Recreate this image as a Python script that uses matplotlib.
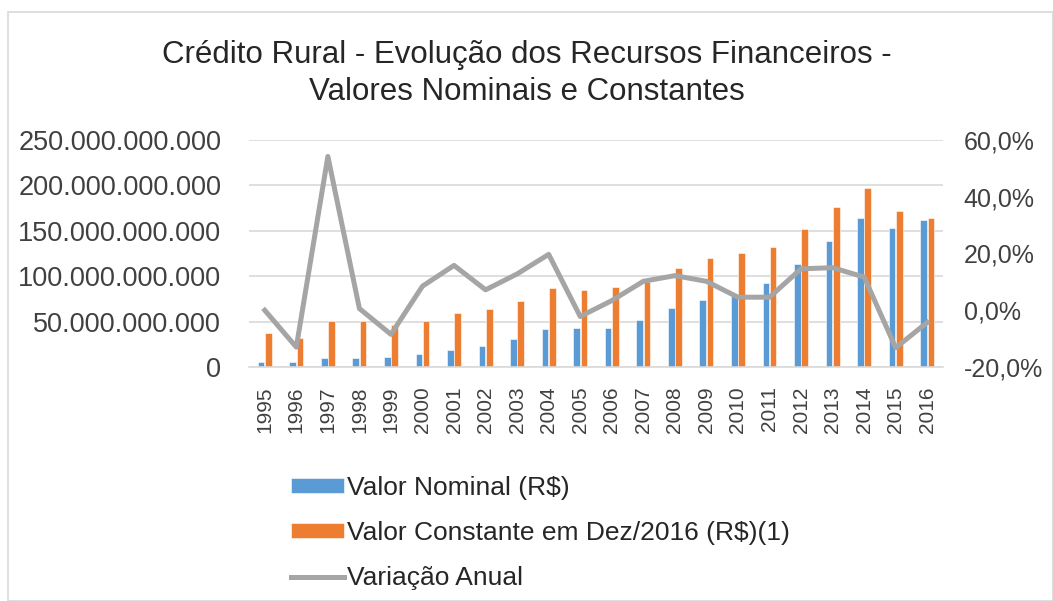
import numpy as np
import matplotlib.pyplot as plt
from matplotlib.patches import Rectangle
from matplotlib.ticker import FuncFormatter

plt.rcParams['font.family'] = ['Liberation Sans', 'DejaVu Sans']

anos = [str(a) for a in range(1995, 2017)]
# valores em bilhoes de R$
valor_nominal = [5.9, 5.9, 10.0, 10.0, 11.4, 14.4, 18.4, 22.8, 31.3, 41.3, 42.7,
                 43.5, 52.3, 65.2, 73.7, 77.7, 92.1, 113.5, 138.9, 164.3, 153.3, 161.7]
valor_constante = [37.2, 32.4, 50.9, 50.9, 46.4, 50.9, 59.7, 63.7, 72.6, 86.6, 85.1,
                   88.0, 93.2, 109.4, 120.5, 126.0, 131.9, 151.8, 175.7, 197.0, 171.6, 164.3]
# variacao anual em %
variacao = [0.0, -13.0, 54.2, 0.6, -8.5, 8.5, 15.8, 7.2, 12.8, 19.7, -2.2,
            3.4, 10.2, 12.2, 10.2, 4.6, 4.6, 14.6, 15.0, 11.7, -13.2, -4.3]

azul = '#5B9BD5'
laranja = '#ED7D31'
cinza = '#A5A5A5'

fig = plt.figure(figsize=(10.53, 6.01), dpi=100)
fig.patches.append(Rectangle((8 / 1053, 0), 1 - 8 / 1053, 1 - 12 / 601, transform=fig.transFigure,
                             fill=False, edgecolor='#D9D9D9', linewidth=1.2))

ax = fig.add_axes([249 / 1053, 1 - 367 / 601, (943 - 249) / 1053, (367 - 140) / 601])
x = np.arange(len(anos))
w = 0.21
ax.bar(x - 0.115, np.array(valor_nominal) * 1e9, w, color=azul, edgecolor='white', linewidth=0.4,
       label='Valor Nominal (R$)', zorder=2)
ax.bar(x + 0.115, np.array(valor_constante) * 1e9, w, color=laranja, edgecolor='white', linewidth=0.4,
       label='Valor Constante em Dez/2016 (R$)(1)', zorder=2)
ax.set_xlim(-0.5, len(anos) - 0.5)
ax.set_ylim(0, 250e9)
ax.set_yticks(np.arange(0, 251e9, 50e9))
ax.yaxis.set_major_formatter(FuncFormatter(lambda v, p: f'{int(round(v)):,}'.replace(',', '.')))
ax.set_xticks(x)
ax.set_xticklabels(anos, rotation=90, fontsize=15)
ax.tick_params(axis='y', labelsize=19.5, length=0, pad=20, colors='#404040')
ax.tick_params(axis='x', length=0, pad=14, colors='#404040')
ax.grid(axis='y', color='#D9D9D9', linewidth=1.2, zorder=0)
ax.set_axisbelow(True)
for s in ['top', 'right', 'left']:
    ax.spines[s].set_visible(False)
ax.spines['bottom'].set_color('#D9D9D9')
ax.spines['bottom'].set_linewidth(1.2)

ax2 = ax.twinx()
ax2.plot(x, variacao, color=cinza, linewidth=3.6, label='Variação Anual', zorder=3)
ax2.set_ylim(-20, 60)
ax2.set_yticks([-20, 0, 20, 40, 60])
ax2.yaxis.set_major_formatter(FuncFormatter(lambda v, p: f'{v:.1f}%'.replace('.', ',')))
ax2.tick_params(axis='y', labelsize=18, length=0, pad=15, colors='#404040')
for s in ax2.spines.values():
    s.set_visible(False)

fig.suptitle('Crédito Rural - Evolução dos Recursos Financeiros -\nValores Nominais e Constantes',
             fontsize=22.5, color='#262626', y=1 - 40 / 601, va='top', linespacing=1.3)

h1, l1 = ax.get_legend_handles_labels()
h2, l2 = ax2.get_legend_handles_labels()
fig.legend(h1 + h2, l1 + l2, loc='upper left', bbox_to_anchor=(278 / 1053, 1 - 463 / 601),
           frameon=False, fontsize=19, labelcolor='#262626', handlelength=2.0, handleheight=0.5,
           handletextpad=0.1, labelspacing=0.8, borderpad=0)

fig.savefig('out.png', dpi=100)
